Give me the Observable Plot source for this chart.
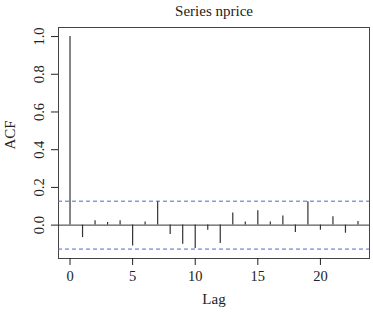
<!DOCTYPE html>
<html><head><meta charset="utf-8">
<script src="https://cdn.jsdelivr.net/npm/d3@7"></script>
<script src="https://cdn.jsdelivr.net/npm/@observablehq/plot@0.6"></script>
<style>body{margin:0;background:#fff}</style>
</head><body><div id="chart"></div>
<script>
const lags = [0,1,2,3,4,5,6,7,8,9,10,11,12,13,14,15,16,17,18,19,20,21,22,23];
const acf = [1.0,-0.066,0.023,0.014,0.023,-0.111,0.016,0.124,-0.05,-0.101,-0.124,-0.027,-0.097,0.064,0.016,0.076,0.016,0.048,-0.039,0.124,-0.027,0.044,-0.043,0.019];
const ciBound = 0.127;
const xTicks = [0,5,10,15,20];
const yTicks = [0,0.2,0.4,0.6,0.8,1.0];
const title = "Series nprice";
const xLabel = "Lag";
const yLabel = "ACF";

const data = lags.map((lag, i) => ({lag, acf: acf[i]}));
const font = "Liberation Serif";

const chart = Plot.plot({
  width: 373, height: 312,
  marginLeft: 58, marginRight: 4, marginTop: 27, marginBottom: 54,
  style: {fontFamily: font, fontSize: "14.5px", background: "#fff", color: "#222"},
  x: {domain: [-0.92, 23.92]},
  y: {domain: [-0.177, 1.048]},
  marks: [
    Plot.frame({stroke: "#444"}),
    Plot.ruleY([0], {stroke: "#333"}),
    Plot.ruleY([ciBound, -ciBound], {stroke: "#4a6ad0", strokeDasharray: "4,3"}),
    Plot.ruleX(data, {x: "lag", y1: 0, y2: "acf", stroke: "#333", strokeWidth: 1.2}),
    Plot.axisX({ticks: xTicks, tickSize: 7, tickPadding: 5, tickFormat: d => String(d), label: null, fontSize: 14.5, fontFamily: font}),
    Plot.axisY({ticks: yTicks, tickSize: 7, tickPadding: 8, tickRotate: -90, tickFormat: ".1f", label: null, fontSize: 14.5, fontFamily: font}),
    Plot.text([title], {text: d => d, frameAnchor: "top", lineAnchor: "middle", dy: -16, fontSize: 15, fontFamily: font}),
    Plot.text([xLabel], {text: d => d, frameAnchor: "bottom", lineAnchor: "middle", dy: 41, fontSize: 15, fontFamily: font}),
    Plot.text([yLabel], {text: d => d, frameAnchor: "left", textAnchor: "middle", lineAnchor: "middle", dx: -48, dy: -8, rotate: -90, fontSize: 15, fontFamily: font})
  ]
});
document.getElementById("chart").appendChild(chart);
</script>
</body></html>
